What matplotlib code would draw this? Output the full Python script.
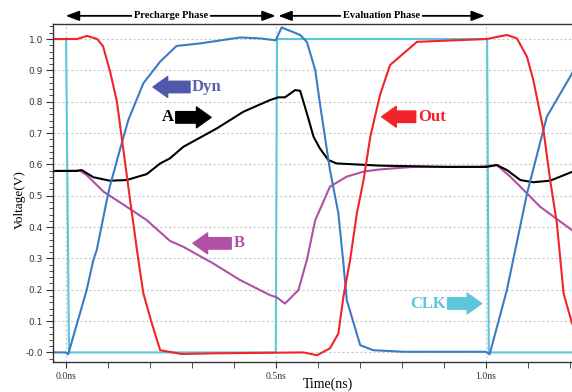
import matplotlib
matplotlib.use('Agg')
import matplotlib.pyplot as plt
from matplotlib.ticker import MultipleLocator, FixedLocator

# ---- data (time in ns, voltage in V) ----
clk_t = [-0.031, 0.001, 0.008, 0.500, 0.503, 1.003, 1.007, 1.205]
clk_v = [1.0, 1.0, 0.0, 0.0, 1.0, 1.0, 0.0, 0.0]

out_t = [-0.031, 0.027, 0.051, 0.075, 0.089, 0.106, 0.122, 0.137, 0.155, 0.173,
         0.185, 0.205, 0.225, 0.276, 0.351, 0.566, 0.598, 0.629, 0.649, 0.661,
         0.677, 0.693, 0.709, 0.725, 0.748, 0.772, 0.836, 1.002, 1.050, 1.074,
         1.098, 1.113, 1.137, 1.153, 1.169, 1.185, 1.205]
out_v = [1.0, 1.0, 1.01, 1.0, 0.977, 0.895, 0.80, 0.65, 0.47, 0.295,
         0.188, 0.093, 0.007, -0.005, -0.003, 0.0, -0.009, 0.013, 0.060, 0.178,
         0.295, 0.444, 0.550, 0.688, 0.821, 0.917, 0.991, 1.0, 1.013, 1.002,
         0.943, 0.869, 0.710, 0.550, 0.412, 0.188, 0.093]

dyn_t = [-0.031, 0.0, 0.006, 0.050, 0.066, 0.074, 0.098, 0.105, 0.129, 0.149,
         0.185, 0.225, 0.264, 0.320, 0.415, 0.463, 0.500, 0.514, 0.558, 0.574,
         0.594, 0.605, 0.617, 0.629, 0.649, 0.661, 0.669, 0.701, 0.732, 0.804,
         1.000, 1.009, 1.050, 1.098, 1.145, 1.205]
dyn_v = [0.0, 0.0, -0.006, 0.199, 0.295, 0.327, 0.486, 0.529, 0.646, 0.741,
         0.859, 0.928, 0.978, 0.986, 1.005, 1.002, 0.996, 1.037, 1.013, 0.991,
         0.901, 0.795, 0.688, 0.582, 0.444, 0.284, 0.167, 0.023, 0.007, 0.002,
         0.002, -0.006, 0.199, 0.507, 0.752, 0.890]

a_t = [-0.031, 0.026, 0.038, 0.066, 0.105, 0.145, 0.193, 0.225, 0.248, 0.280,
       0.360, 0.423, 0.486, 0.506, 0.522, 0.546, 0.558, 0.574, 0.590, 0.605,
       0.625, 0.645, 0.748, 0.907, 1.002, 1.026, 1.050, 1.082, 1.113, 1.153,
       1.205]
a_v = [0.579, 0.579, 0.582, 0.559, 0.548, 0.550, 0.569, 0.603, 0.619, 0.656,
       0.715, 0.768, 0.805, 0.814, 0.814, 0.837, 0.835, 0.763, 0.688, 0.651,
       0.614, 0.603, 0.596, 0.592, 0.592, 0.598, 0.582, 0.550, 0.543, 0.548,
       0.576]

b_t = [-0.031, 0.034, 0.050, 0.090, 0.145, 0.193, 0.248, 0.280, 0.351, 0.415,
       0.486, 0.502, 0.522, 0.554, 0.574, 0.594, 0.629, 0.669, 0.709, 0.748,
       0.828, 0.986, 1.026, 1.058, 1.082, 1.129, 1.205]
b_v = [0.579, 0.580, 0.566, 0.513, 0.465, 0.422, 0.356, 0.337, 0.284, 0.231,
       0.183, 0.176, 0.156, 0.199, 0.295, 0.422, 0.529, 0.561, 0.577, 0.584,
       0.592, 0.592, 0.598, 0.561, 0.529, 0.465, 0.390]

ytick_vals = [0.0, 0.1, 0.2, 0.3, 0.4, 0.5, 0.6, 0.7, 0.8, 0.9, 1.0]
ytick_labels = ['-0.0', '0.1', '0.2', '0.3', '0.4', '0.5', '0.6', '0.7', '0.8', '0.9', '1.0']
xtick_vals = [0.0, 0.5, 1.0]
xtick_labels = ['0.0ns', '0.5ns', '1.0ns']

serif = 'Liberation Serif'
c_clk = '#5ec6da'
c_out = '#f2232a'
c_dyn = '#3b7bc6'
c_b = '#b24fa6'

fig = plt.figure(figsize=(5.72, 3.92), dpi=100)
ax = fig.add_axes([0.092, 0.077, 0.908, 0.861])

lw = 1.5
ax.plot(clk_t, clk_v, color=c_clk, lw=lw)
ax.plot(b_t, b_v, color=c_b, lw=lw)
ax.plot(a_t, a_v, color='black', lw=lw)
ax.plot(dyn_t, dyn_v, color=c_dyn, lw=lw)
ax.plot(out_t, out_v, color=c_out, lw=lw)

ax.set_xlim(-0.031, 1.205)
ax.set_ylim(-0.030, 1.047)

ax.yaxis.set_major_locator(FixedLocator(ytick_vals))
ax.set_yticklabels(ytick_labels)
ax.yaxis.set_minor_locator(MultipleLocator(0.02))
ax.xaxis.set_major_locator(FixedLocator(xtick_vals))
ax.set_xticklabels(xtick_labels, fontfamily=serif)
ax.xaxis.set_minor_locator(MultipleLocator(0.1))
ax.tick_params(axis='y', which='major', length=5, labelsize=6.5, colors='#333333', pad=2)
ax.tick_params(axis='y', which='minor', length=3, color='#333333')
ax.tick_params(axis='x', which='both', length=4, labelsize=7, colors='#333333', pad=3)

ax.grid(True, which='major', color='#c8c8c8', ls=(0, (2, 2)), lw=0.8)
for s in ['left', 'bottom', 'top']:
    ax.spines[s].set_color('#333333')
    ax.spines[s].set_linewidth(1.0)
ax.spines['right'].set_visible(False)

# axis titles placed where the reference has them
fig.text(328 / 572, 1 - 384 / 392, 'Time(ns)', ha='center', va='center',
         fontfamily=serif, fontsize=10)
fig.text(20 / 572, 1 - 200 / 392, 'Voltage(V)', ha='center', va='center',
         rotation=90, fontfamily=serif, fontsize=9.5)

# phase arrows above the plot
for x0, x1, label in [(0.0, 0.5, 'Precharge Phase'), (0.506, 0.998, 'Evaluation Phase')]:
    ax.annotate('', xy=(x0, 1.074), xytext=(x1, 1.074), annotation_clip=False,
                arrowprops=dict(arrowstyle='<|-|>,head_length=0.8,head_width=0.3',
                                color='black', lw=1.3, shrinkA=0, shrinkB=0))
    ax.text((x0 + x1) / 2, 1.074, label, ha='center', va='center', fontsize=7.5,
            fontweight='bold', fontfamily=serif, clip_on=False,
            bbox=dict(boxstyle='square,pad=0.2', fc='white', ec='none'))

# block arrow labels
def tag(head, tail, y, color, txt, tx, ha, txtcolor):
    ax.annotate('', xy=(head, y), xytext=(tail, y),
                arrowprops=dict(arrowstyle='simple,head_length=0.7,head_width=1.0,tail_width=0.55',
                                color=color, mutation_scale=15, shrinkA=0, shrinkB=0))
    ax.text(tx, y, txt, ha=ha, va='center', fontsize=12, fontweight='bold',
            fontfamily=serif, color=txtcolor)

tag(0.208, 0.296, 0.847, '#5058ac', 'Dyn', 0.300, 'left', '#5a5fb0')
tag(0.346, 0.262, 0.750, 'black', 'A', 0.257, 'right', 'black')
tag(0.752, 0.833, 0.752, c_out, 'Out', 0.838, 'left', c_out)
tag(0.303, 0.394, 0.348, c_b, 'B', 0.401, 'left', c_b)
tag(0.990, 0.909, 0.156, c_clk, 'CLK', 0.905, 'right', c_clk)

fig.savefig('out.png', dpi=100)
